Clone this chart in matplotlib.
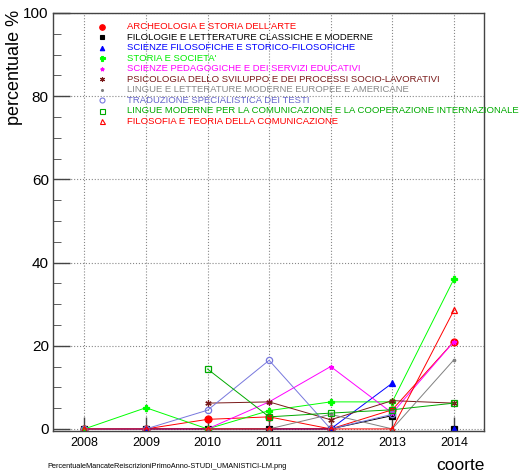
import numpy as np
import matplotlib
matplotlib.use("Agg")
import matplotlib.pyplot as plt
from matplotlib.ticker import MultipleLocator

plt.rcParams['font.family'] = ['Liberation Sans', 'DejaVu Sans']

nan = np.nan
years = [2008, 2009, 2010, 2011, 2012, 2013, 2014]

archeologia = [0, 0, 2.3, 2.9, 0, 4.6, 21.0]
filologie = [0, 0, 0, 0, 0, 3.2, 0]
scienze_filosofiche = [0, 0, 0, 0, 0, 11.0, 0]
storia = [0, 5.1, 0, 4.4, 6.5, 6.5, 36.0]
pedagogiche = [nan, nan, 0, 6.5, 15.0, 3.8, 21.0]
psicologia = [nan, nan, 6.2, 6.5, 2.2, 6.8, 6.2]
lingue_europee = [nan, nan, 0, 0, 3.5, 0, 16.6]
traduzione = [0, 0, 4.5, 16.5, 0, 3.5, nan]
lingue_comunicazione = [nan, nan, 14.4, 2.9, 3.8, 4.6, 6.2]
filosofia_teoria = [0, 0, 0, 0, 0, 0, 28.5]

labels = [
    "ARCHEOLOGIA E STORIA DELL'ARTE",
    "FILOLOGIE E LETTERATURE CLASSICHE E MODERNE",
    "SCIENZE FILOSOFICHE E STORICO-FILOSOFICHE",
    "STORIA E SOCIETA'",
    "SCIENZE PEDAGOGICHE E DEI SERVIZI EDUCATIVI",
    "PSICOLOGIA DELLO SVILUPPO E DEI PROCESSI SOCIO-LAVORATIVI",
    "LINGUE E LETTERATURE MODERNE EUROPEE E AMERICANE",
    "TRADUZIONE SPECIALISTICA DEI TESTI",
    "LINGUE MODERNE PER LA COMUNICAZIONE E LA COOPERAZIONE INTERNAZIONALE",
    "FILOSOFIA E TEORIA DELLA COMUNICAZIONE",
]
series = [archeologia, filologie, scienze_filosofiche, storia, pedagogiche,
          psicologia, lingue_europee, traduzione, lingue_comunicazione, filosofia_teoria]
colors = ['#ff0000', '#000000', '#0000ff', '#00ff00', '#ff00ff',
          '#7a1a1a', '#808080', '#7777dd', '#00aa00', '#ff0000']
markers = ['o', 's', '^', 'P', '*', (6, 2, 0), '.', 'o', 's', '^']
filled = [True, True, True, True, True, True, True, False, False, False]
msizes = [5, 4, 4, 4.5, 3.5, 4.5, 3.5, 4.5, 4.5, 4.5]
# series whose last point is shown without connecting line
no_last_line = [False, True, True, False, False, False, False, False, False, False]

fig = plt.figure(figsize=(5.2, 4.74), dpi=100)
ax = fig.add_axes([53/520, 1-431/474, 431/520, 418/474])

for vals, c, m, f, ms, nl in zip(series, colors, markers, filled, msizes, no_last_line):
    vals = np.array(vals, dtype=float)
    fc = c if f else 'none'
    if nl:
        ax.plot(years[:-1], vals[:-1], '-', color=c, lw=0.7, marker=m, ms=ms,
                mfc=fc, mec=c, mew=0.9)
        ax.plot(years[-1:], vals[-1:], ls='none', marker=m, ms=ms, mfc=fc, mec=c, mew=0.9)
    else:
        ax.plot(years, vals, '-', color=c, lw=0.7, marker=m, ms=ms,
                mfc=fc, mec=c, mew=0.9)

ax.set_xlim(2007.49, 2014.49)
ax.set_ylim(-0.5, 100)
ax.set_xticks(years)
ax.yaxis.set_major_locator(MultipleLocator(20))
ax.yaxis.set_minor_locator(MultipleLocator(5))
ax.tick_params(axis='both', direction='in', color='#444444', width=1)
ax.tick_params(axis='x', length=10, labelsize=9, pad=4)
ax.tick_params(axis='y', which='major', length=12, labelsize=11, pad=3)
ax.tick_params(axis='y', which='minor', length=6, direction='in', color='#444444')
ax.grid(True, ls=':', color='#888888', lw=0.8)
for s in ax.spines.values():
    s.set_color('#444444')
    s.set_linewidth(1)

fig.text(15/520, 1-10/474, 'percentuale %', rotation=90, ha='center', va='top', fontsize=13)
fig.text(485/520, 1-466/474, 'coorte', ha='right', va='center', fontsize=12.5)
fig.text(47/520, 1-466/474, 'PercentualeMancateReiscrizioniPrimoAnno-STUDI_UMANISTICI-LM.png',
         ha='left', va='center', fontsize=5.3)

label_colors = ['#ff0000', '#000000', '#0000ff', '#00ee00', '#ff00ff',
                '#7a1a1a', '#888888', '#6666cc', '#00aa00', '#ff0000']
for i, (lab, c, lc, m, f, ms) in enumerate(zip(labels, colors, label_colors, markers, filled, msizes)):
    ypix = 26.7 + i * 10.5
    yf = 1 - ypix / 474
    fig.lines.append(plt.Line2D([102/520], [yf], transform=fig.transFigure, ls='none',
                                marker=m, ms=ms * 0.8, mfc=c if f else 'none', mec=c,
                                mew=0.8, color=c))
    fig.text(127/520, yf, lab, color=lc, ha='left', va='center', fontsize=6.8)

fig.savefig('out.png', dpi=100)
